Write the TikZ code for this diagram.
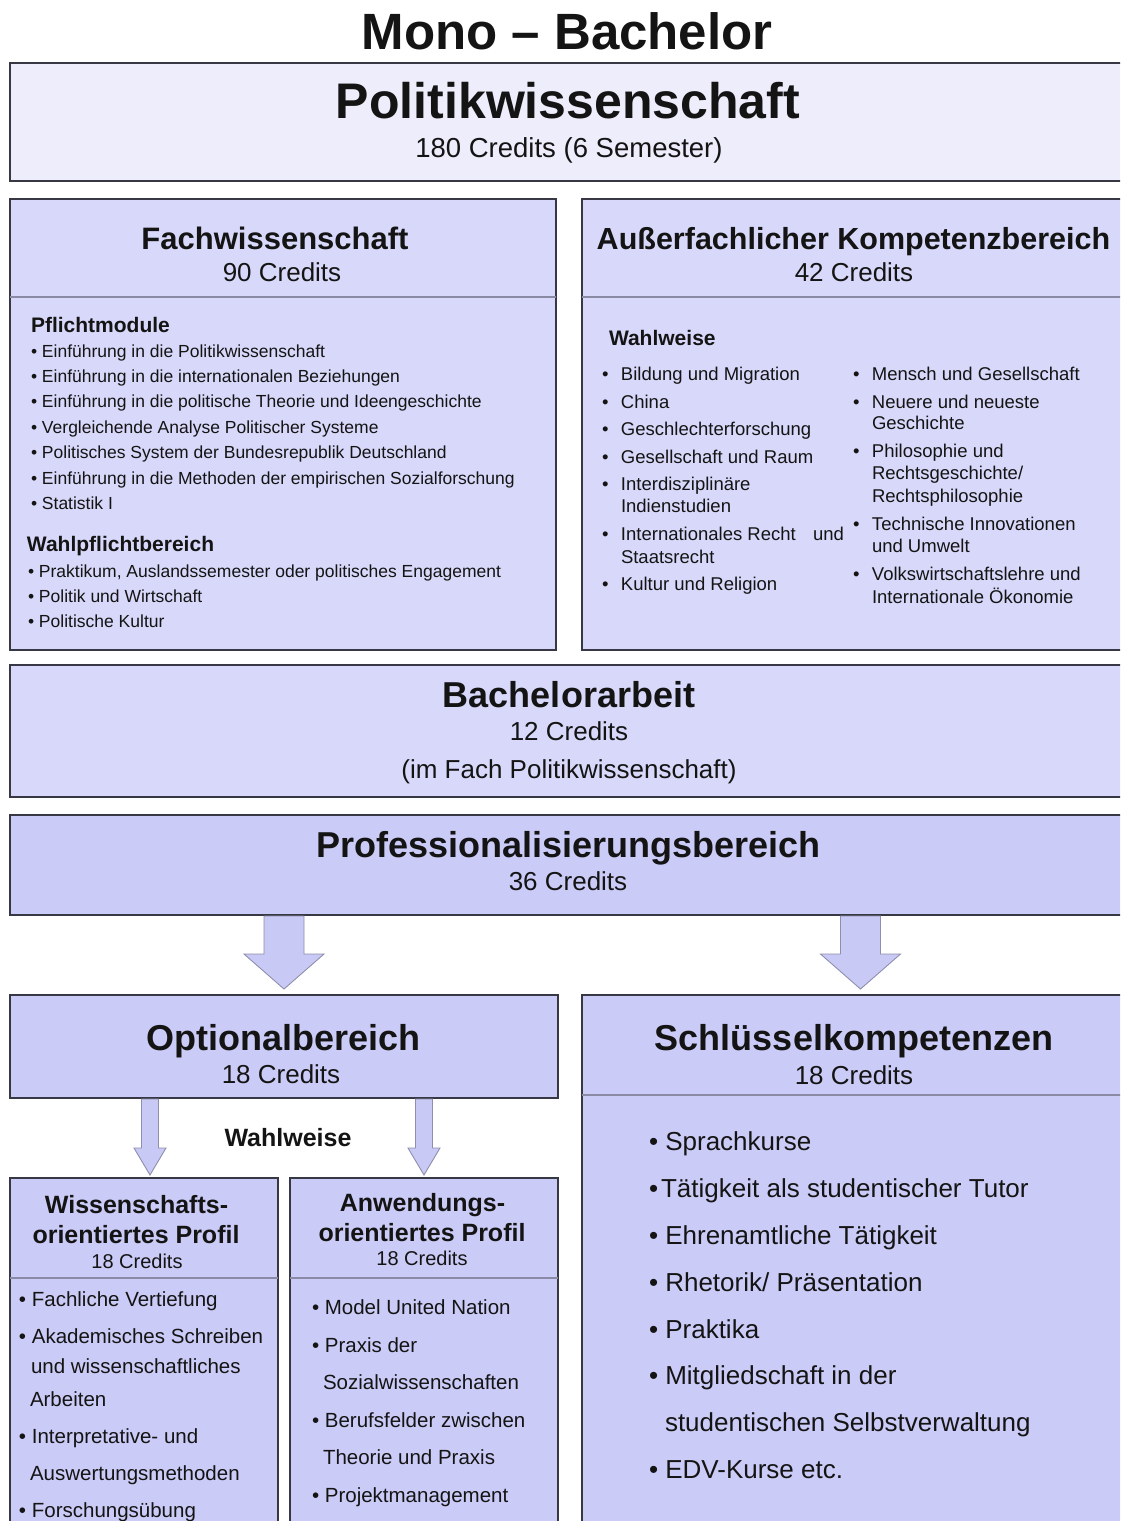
\documentclass[tikz,border=0pt]{standalone}
\usepackage{fontspec}
\setmainfont{Liberation Sans}
\usetikzlibrary{calc}
\definecolor{lavA}{HTML}{EDEDFB}
\definecolor{lavB}{HTML}{D8D8FA}
\definecolor{lavC}{HTML}{CBCBF7}
\definecolor{bordc}{HTML}{383844}
\definecolor{divc}{HTML}{8A8AA4}
\definecolor{arrc}{HTML}{8E8EAE}
\definecolor{arrf}{HTML}{C9C9F5}
\definecolor{txtc}{HTML}{141414}
\newcommand\blockarrow[5]{%
  \path[arrowshape] let \p1=(#1), \p2=(#2) in
    (\x1-#3pt,\y1) -- (\x1+#3pt,\y1) -- (\x1+#3pt,\y2+#5pt) -- (\x1+#4pt,\y2+#5pt)
    -- (\x1,\y2) -- (\x1-#4pt,\y2+#5pt) -- (\x1-#3pt,\y2+#5pt) -- cycle;}
\tikzset{
  box/.style={draw=bordc, line width=1.5pt, rectangle, anchor=north west, inner sep=0pt, outer sep=0pt},
  lbl/.style={inner sep=0pt, outer sep=0pt, text=txtc},
  ttl/.style={lbl, anchor=base, font=\fontsize{#1}{#1}\selectfont\bfseries},
  sub/.style={lbl, anchor=base, font=\fontsize{#1}{#1}\selectfont},
  itm/.style={lbl, anchor=base west, font=\fontsize{#1}{#1}\selectfont},
  hdl/.style={lbl, anchor=base west, font=\fontsize{#1}{#1}\selectfont\bfseries},
  divider/.style={draw=divc, line width=1.2pt},
  arrowshape/.style={fill=arrf, draw=arrc, line width=0.9pt, line join=miter},
}
\begin{document}
\begin{tikzpicture}[x=1pt,y=-1pt]
\useasboundingbox (0,0) rectangle (1120,1521);
\clip (0,0) rectangle (1120,1521);
\fill[white] (0,0) rectangle (1120,1521);

% ---------- boxes ----------
\node[box, fill=lavA, minimum width=1130pt, minimum height=118pt] (polit) at (10,63) {};
\node[box, fill=lavB, minimum width=546pt, minimum height=451pt] (fach) at (10,199) {};
\node[box, fill=lavB, minimum width=560pt, minimum height=451pt] (auss) at (582,199) {};
\node[box, fill=lavB, minimum width=1130pt, minimum height=132pt] (bach) at (10,665) {};
\node[box, fill=lavC, minimum width=1130pt, minimum height=100pt] (prof) at (10,815) {};
\node[box, fill=lavC, minimum width=548pt, minimum height=103pt] (opt) at (10,995) {};
\node[box, fill=lavC, minimum width=560pt, minimum height=560pt] (schl) at (582,995) {};
\node[box, fill=lavC, minimum width=268pt, minimum height=360pt] (wiss) at (10,1178) {};
\node[box, fill=lavC, minimum width=268pt, minimum height=360pt] (anw) at (290,1178) {};

% dividers
\draw[divider] ($(fach.north west)+(0,98)$) -- ($(fach.north east)+(0,98)$);
\draw[divider] ($(auss.north west)+(0,98)$) -- ($(auss.north east)+(0,98)$);
\draw[divider] ($(schl.north west)+(0,100)$) -- ($(schl.north east)+(0,100)$);
\draw[divider] ($(wiss.north west)+(0,100)$) -- ($(wiss.north east)+(0,100)$);
\draw[divider] ($(anw.north west)+(0,100)$) -- ($(anw.north east)+(0,100)$);

% ---------- block arrows ----------
\coordinate (a1top) at ($(prof.south -| opt.north)+(0,1)$);
\coordinate (a1tip) at ($(opt.north)+(0,-6)$);
\coordinate (a2top) at ($(prof.south -| schl.north)+(-1.5,1)$);
\coordinate (a2tip) at ($(schl.north)+(-1.5,-6)$);
\coordinate (a3top) at ($(opt.south -| wiss.north)+(6,1)$);
\coordinate (a3tip) at ($(wiss.north)+(6,-3)$);
\coordinate (a4top) at ($(opt.south -| anw.north)+(0,1)$);
\coordinate (a4tip) at ($(anw.north)+(0,-3)$);
\blockarrow{a1top}{a1tip}{20}{40}{35}
\blockarrow{a2top}{a2tip}{20}{40}{35}
\blockarrow{a3top}{a3tip}{8.5}{16}{27}
\blockarrow{a4top}{a4tip}{8.5}{16}{27}

% ---------- headings ----------
\node[ttl=51] (maintitle) at (567,49) {Mono – Bachelor};
\node[ttl=50] (politT) at (568,118) {Politikwissenschaft};
\node[sub=27.5] (politC) at (569,157) {180 Credits (6 Semester)};

\node[ttl=31] (fachT) at (275,249) {Fachwissenschaft};
\node[sub=26] (fachC) at (282,281) {90 Credits};
\node[ttl=30.5] (aussT) at (853.5,249) {Außerfachlicher Kompetenzbereich};
\node[sub=26] (aussC) at (854,281) {42 Credits};

\node[ttl=36] (bachT) at (569,707) {Bachelorarbeit};
\node[sub=26] (bachC) at (569,740) {12 Credits};
\node[sub=26] (bachF) at (569,778) {(im Fach Politikwissenschaft)};

\node[ttl=36] (profT) at (568.5,857) {Professionalisierungsbereich};
\node[sub=26] (profC) at (568,890) {36 Credits};

\node[ttl=36] (optT) at (283.5,1050) {Optionalbereich};
\node[sub=26] (optC) at (281,1083) {18 Credits};
\node[ttl=25] (optW) at (288,1146) {Wahlweise};

\node[ttl=36] (schlT) at (854,1050) {Schlüsselkompetenzen};
\node[sub=26] (schlC) at (854,1084) {18 Credits};

\node[ttl=25] (wissT1) at (136.5,1213) {Wissenschafts-};
\node[ttl=25] (wissT2) at (136,1243) {orientiertes Profil};
\node[sub=20] (wissC) at (137,1268) {18 Credits};
\node[ttl=25] (anwT1) at (422.5,1211) {Anwendungs-};
\node[ttl=25] (anwT2) at (422,1241) {orientiertes Profil};
\node[sub=20] (anwC) at (422,1265) {18 Credits};

% ---------- Fachwissenschaft lists ----------
\node[hdl=21] (pflH) at (31,332) {Pflichtmodule};
\foreach \t [count=\i] in {Einführung in die Politikwissenschaft,
  Einführung in die internationalen Beziehungen,
  Einführung in die politische Theorie und Ideengeschichte,
  Vergleichende Analyse Politischer Systeme,
  Politisches System der Bundesrepublik Deutschland,
  Einführung in die Methoden der empirischen Sozialforschung,
  Statistik I}
  \node[itm=17.5] (fp\i) at (31,{357+25.4*(\i-1)}) {• \t};
\node[hdl=21] (wpH) at (27,551) {Wahlpflichtbereich};
\foreach \t [count=\i] in {{Praktikum, Auslandssemester oder politisches Engagement},
  Politik und Wirtschaft, Politische Kultur}
  \node[itm=17.5] (fw\i) at (28,{577+25.2*(\i-1)}) {• \t};

% ---------- Außerfachlicher lists ----------
\node[hdl=21] (awH) at (609,345) {Wahlweise};
\node[itm=18.5] (al1) at (602,380) {\makebox[19pt][l]{•}Bildung und Migration};
\node[itm=18.5] (al2) at (602,408) {\makebox[19pt][l]{•}China};
\node[itm=18.5] (al3) at (602,435) {\makebox[19pt][l]{•}Geschlechterforschung};
\node[itm=18.5] (al4) at (602,463) {\makebox[19pt][l]{•}Gesellschaft und Raum};
\node[itm=18.5] (al5) at (602,490) {\makebox[19pt][l]{•}Interdisziplinäre};
\node[itm=18.5] (al6) at (621,512) {Indienstudien};
\node[itm=18.5] (al7) at (602,540) {\makebox[19pt][l]{•}\makebox[223pt][l]{Internationales Recht\hfill und}};
\node[itm=18.5] (al8) at (621,563) {Staatsrecht};
\node[itm=18.5] (al9) at (602,590) {\makebox[19pt][l]{•}Kultur und Religion};

\node[itm=18.5] (ar1) at (853,380) {\makebox[19pt][l]{•}Mensch und Gesellschaft};
\node[itm=18.5] (ar2) at (853,408) {\makebox[19pt][l]{•}Neuere und neueste};
\node[itm=18.5] (ar3) at (872,429) {Geschichte};
\node[itm=18.5] (ar4) at (853,457) {\makebox[19pt][l]{•}Philosophie und};
\node[itm=18.5] (ar5) at (872,479) {Rechtsgeschichte/};
\node[itm=18.5] (ar6) at (872,502) {Rechtsphilosophie};
\node[itm=18.5] (ar7) at (853,530) {\makebox[19pt][l]{•}Technische Innovationen};
\node[itm=18.5] (ar8) at (872,552) {und Umwelt};
\node[itm=18.5] (ar9) at (853,580) {\makebox[19pt][l]{•}Volkswirtschaftslehre und};
\node[itm=18.5] (ar10) at (872,603) {Internationale Ökonomie};

% ---------- Schlüsselkompetenzen ----------
\node[itm=26] (s1) at (649,1150) {• Sprachkurse};
\node[itm=26] (s2) at (649,1197) {•\kern3pt Tätigkeit als studentischer Tutor};
\node[itm=26] (s3) at (649,1244) {• Ehrenamtliche Tätigkeit};
\node[itm=26] (s4) at (649,1291) {• Rhetorik/ Präsentation};
\node[itm=26] (s5) at (649,1338) {• Praktika};
\node[itm=26] (s6) at (649,1384) {• Mitgliedschaft in der};
\node[itm=26] (s7) at (665,1431) {studentischen Selbstverwaltung};
\node[itm=26] (s8) at (649,1478) {• EDV-Kurse etc.};

% ---------- Wissenschafts- / Anwendungsprofil ----------
\node[itm=20.5] (w1) at (19,1306) {• Fachliche Vertiefung};
\node[itm=20.5] (w2) at (19,1343) {• Akademisches Schreiben};
\node[itm=20.5] (w3) at (31,1373) {und wissenschaftliches};
\node[itm=20.5] (w4) at (30,1406) {Arbeiten};
\node[itm=20.5] (w5) at (19,1443) {• Interpretative- und};
\node[itm=20.5] (w6) at (30,1480) {Auswertungsmethoden};
\node[itm=20.5] (w7) at (19,1517) {• Forschungsübung};

\node[itm=20.5] (n1) at (312,1314) {• Model United Nation};
\node[itm=20.5] (n2) at (312,1352) {• Praxis der};
\node[itm=20.5] (n3) at (323,1389) {Sozialwissenschaften};
\node[itm=20.5] (n4) at (312,1427) {• Berufsfelder zwischen};
\node[itm=20.5] (n5) at (323,1464) {Theorie und Praxis};
\node[itm=20.5] (n6) at (312,1502) {• Projektmanagement};
\end{tikzpicture}
\end{document}
